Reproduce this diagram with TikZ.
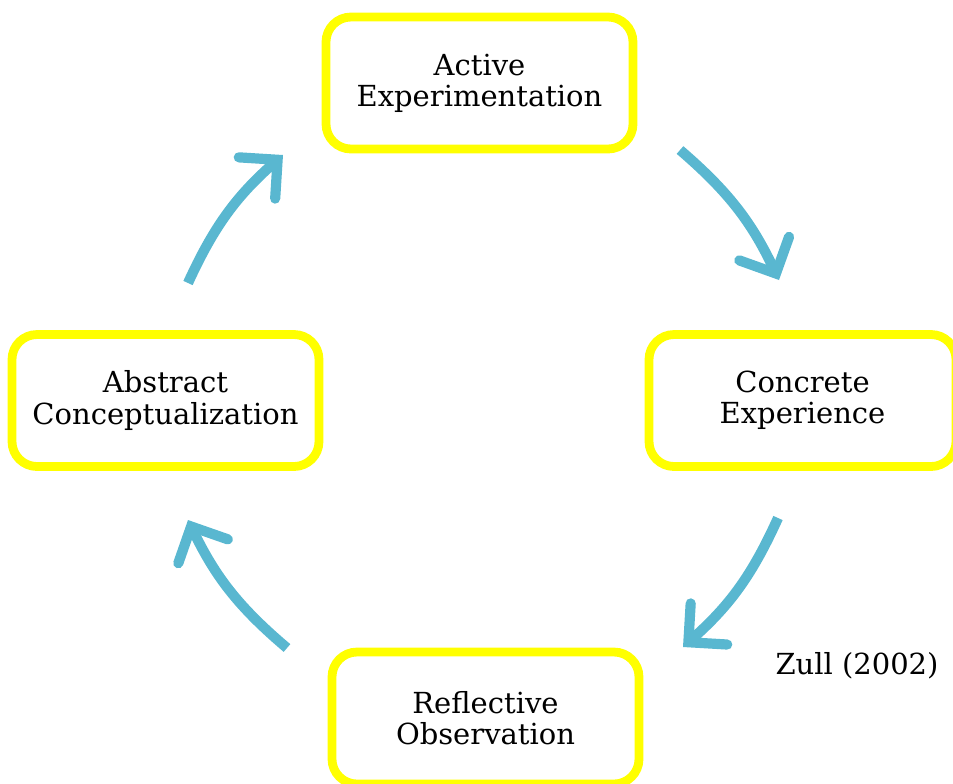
\documentclass[tikz,border=0pt]{standalone}
\usepackage{fontspec}
\setmainfont{DejaVu Serif}
\usepackage{tikz}
\usetikzlibrary{arrows.meta,calc}
\definecolor{cycleblue}{RGB}{89,183,208}
\definecolor{stageyellow}{RGB}{255,255,0}
\tikzset{>=stealth}
\tikzset{
    stage/.style={draw=stageyellow, line width=5pt, fill=white, rounded corners=0.5cm,
        minimum width=6.14cm, minimum height=2.64cm, align=center,
        font=\fontsize{16.5}{17.8}\selectfont},
    cyclearrow/.style={cycleblue, line width=5.8pt, line cap=butt,
        -{Straight Barb[length=0.55cm, width=1.1cm, line cap=round, line join=miter]}, bend left=12}
}

\begin{document}
\begin{tikzpicture}

    \useasboundingbox (0,0) rectangle (19.06,-15.66);

    % Four stages of the cycle
    \node[stage] (ae) at (9.59,-1.66) {Active\\Experimentation};
    \node[stage] (ce) at (16.05,-8.01) {Concrete\\Experience};
    \node[stage] (ro) at (9.71,-14.36) {Reflective\\Observation};
    \node[stage] (ac) at (3.31,-8.01) {Abstract\\Conceptualization};

    % Source
    \node[font=\fontsize{16.5}{17.8}\selectfont] (zull) at (17.14,-13.32) {Zull (2002)};

    % Arrow ends between the stages
    \coordinate (aeout) at (13.6,-3.0);
    \coordinate (cein) at (15.58,-5.6);
    \coordinate (ceout) at (15.56,-10.36);
    \coordinate (roin) at (13.66,-12.94);
    \coordinate (roout) at (5.74,-12.96);
    \coordinate (acin) at (3.76,-10.4);
    \coordinate (acout) at (3.76,-5.66);
    \coordinate (aein) at (5.66,-3.1);

    % Arrows round the cycle
    \draw[cyclearrow] (aeout) to (cein);
    \draw[cyclearrow] (ceout) to (roin);
    \draw[cyclearrow] (roout) to (acin);
    \draw[cyclearrow] (acout) to (aein);

\end{tikzpicture}
\end{document}
